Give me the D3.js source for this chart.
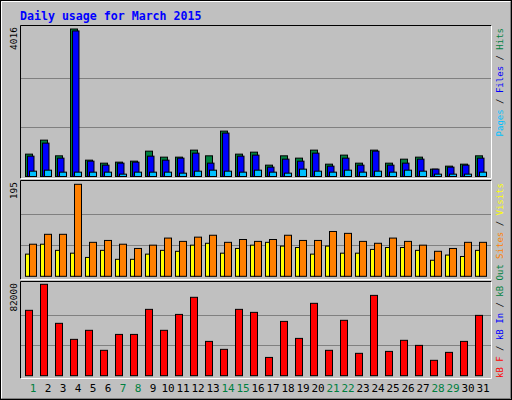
<!DOCTYPE html>
<html>
<head>
<meta charset="utf-8">
<script src="https://cdn.jsdelivr.net/npm/d3@7"></script>
<style>
  body { margin: 0; background: #fff; }
  svg text { font-family: "DejaVu Sans Mono", monospace; }
</style>
</head>
<body>
<svg id="chart" width="512" height="400"></svg>
<script>
// values
const days = d3.range(1, 32);
const weekends = [1, 7, 8, 14, 15, 21, 22, 28, 29];
const hits = [609,990,563,4016,445,363,391,418,690,527,527,718,563,1236,609,663,309,563,500,718,336,582,363,718,363,472,527,200,282,336,563];
const files = [554,909,500,3963,418,309,364,391,554,445,500,636,364,1182,554,582,255,473,418,636,282,500,309,691,309,364,473,200,255,309,500];
const pages = [145,172,118,118,118,118,64,118,118,118,91,145,172,145,118,172,118,91,200,145,118,172,118,145,118,172,145,64,64,64,118];
const visits = [47,68,55,49,40,55,36,36,47,55,53,66,70,49,59,66,72,64,61,47,64,49,49,57,61,61,55,34,45,42,55];
const sites = [68,89,89,195,72,76,68,59,66,81,74,83,87,72,78,74,78,87,76,76,95,91,74,70,81,74,66,53,59,72,72];
const kbytes = [60800,85000,48700,33800,42200,23600,38400,38400,61700,42200,57000,72900,31900,24500,61700,58900,17000,50500,34700,67300,23600,51500,20800,74700,22600,32900,28200,14300,21700,31900,56100];
const maxLabels = ["4016", "195", "82000"];

const svg = d3.select("#chart");
const W = 512, H = 400;

// frame
svg.append("rect").attr("x", 0.5).attr("y", 0.5).attr("width", W - 1).attr("height", H - 1)
  .attr("fill", "#c0c0c0").attr("stroke", "#000");
svg.append("path").attr("d", "M1.5,398.5V1.5H510.5").attr("stroke", "#fff").attr("fill", "none");
svg.append("path").attr("d", "M1.5,398.5H510.5V1.5").attr("stroke", "#808080").attr("fill", "none");

svg.append("text").attr("x", 20).attr("y", 20).text("Daily usage for March 2015")
  .attr("fill", "#0000ff").attr("font-weight", "bold").attr("font-size", "11.6px");

const x = d3.scaleBand().domain(days).range([25, 490]).paddingInner(0);

const panels = [
  { top: 25, bottom: 178, base: 176.5, maxY: 29, max: 4016, label: maxLabels[0], fromTop: true,
    legend: [["Pages", "#00c0ff"], ["/", "#000"], ["Files", "#0000ff"], ["/", "#000"], ["Hits", "#008040"]] },
  { top: 180, bottom: 279, base: 276.3, maxY: 184.3, max: 195, label: maxLabels[1], fromTop: true,
    legend: [["Sites", "#ff8000"], ["/", "#000"], ["Visits", "#ffff00"]] },
  { top: 281, bottom: 378, base: 375.7, maxY: 284.3, max: 85000, label: maxLabels[2], fromTop: false,
    legend: [["kB F", "#ff0000"], ["/", "#000"], ["kB In", "#0000ff"], ["/", "#000"], ["kB Out", "#008040"]] }
];

panels.forEach(p => {
  p.y = d3.scaleLinear().domain([0, p.max]).range([p.base, p.maxY]);
  svg.append("path").attr("d", `M20.5,${p.bottom + 0.5}V${p.top + 0.5}H491.5`).attr("stroke", "#000").attr("fill", "none");
  svg.append("path").attr("d", `M20.5,${p.bottom + 0.5}H491.5V${p.top + 0.5}`).attr("stroke", "#fff").attr("fill", "none");
  [1 / 3, 2 / 3].forEach(f => {
    const gy = Math.round(p.base - (p.base - p.top - 3) * f) + 0.5;
    svg.append("line").attr("x1", 21).attr("x2", 491).attr("y1", gy).attr("y2", gy)
      .attr("stroke", "#808080").attr("stroke-width", 1);
  });
  svg.append("text").attr("transform", `translate(17,${p.top + 2}) rotate(-90)`)
    .attr("text-anchor", "end").attr("font-size", "9.5px").attr("fill", "#000").text(p.label);
  const t = svg.append("text")
    .attr("transform", p.fromTop ? `translate(503,${p.top + 3}) rotate(-90)` : `translate(503,${p.bottom}) rotate(-90)`)
    .attr("text-anchor", p.fromTop ? "end" : "start")
    .attr("font-size", "9px").attr("xml:space", "preserve");
  p.legend.forEach(([s, c]) => t.append("tspan").attr("fill", c).text(s === "/" ? " / " : s));
});

function bars(panel, data, dx, w, color) {
  svg.append("g").selectAll("rect").data(data).join("rect")
    .attr("x", (d, i) => x(days[i]) + dx + 0.5)
    .attr("y", d => panel.y(d))
    .attr("width", w)
    .attr("height", d => panel.base - panel.y(d))
    .attr("fill", color).attr("stroke", "#000").attr("stroke-width", 1);
}

bars(panels[0], hits, 0, 7, "#008040");
bars(panels[0], files, 2, 6.5, "#0000ff");
bars(panels[0], pages, 4, 7, "#00c0ff");
bars(panels[1], visits, 0, 4, "#ffff00");
bars(panels[1], sites, 4, 7, "#ff8000");
bars(panels[2], kbytes, 0, 7, "#ff0000");

svg.append("g").selectAll("text").data(days).join("text")
  .attr("x", d => x(d) + 8).attr("y", 392).attr("text-anchor", "middle")
  .attr("font-size", "11px")
  .attr("fill", d => weekends.includes(d) ? "#008040" : "#000")
  .text(d => d);
</script>
</body>
</html>
